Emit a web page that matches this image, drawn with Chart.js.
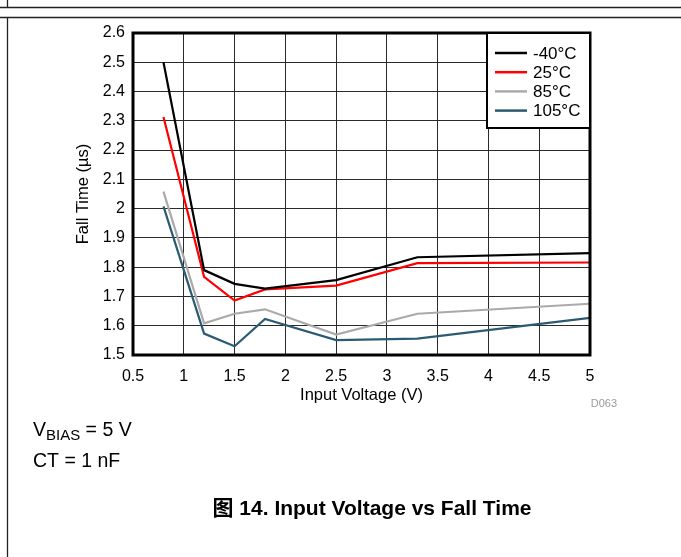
<!DOCTYPE html>
<html>
<head>
<meta charset="utf-8">
<script src="https://cdn.jsdelivr.net/npm/chart.js@4/dist/chart.umd.min.js"></script>
<style>
  html, body { margin: 0; padding: 0; background: #fff; }
  canvas { display: block; }
</style>
</head>
<body>
<canvas id="c" width="681" height="557"></canvas>
<script>
// Fall time (µs) against input voltage (V) at four temperatures
const inputVoltage = [0.8, 1.2, 1.5, 1.8, 2.5, 3.3, 5];
const fallMinus40 = [2.50, 1.79, 1.743, 1.727, 1.756, 1.834, 1.848];
const fall25      = [2.313, 1.767, 1.686, 1.724, 1.737, 1.814, 1.816];
const fall85      = [2.058, 1.608, 1.641, 1.656, 1.570, 1.641, 1.675];
const fall105     = [2.008, 1.573, 1.530, 1.623, 1.551, 1.556, 1.627];
const seriesLabels = ['-40°C', '25°C', '85°C', '105°C'];
const xTicks = [0.5, 1, 1.5, 2, 2.5, 3, 3.5, 4, 4.5, 5];
const yTicks = [1.5, 1.6, 1.7, 1.8, 1.9, 2.0, 2.1, 2.2, 2.3, 2.4, 2.5, 2.6];

const FONT = "'Liberation Sans', Arial, Helvetica, sans-serif";
const COLORS = ['#000000', '#ff0000', '#aaaaaa', '#2b5b72'];

const pairs = ys => inputVoltage.map((x, i) => ({ x, y: ys[i] }));
const seriesValues = [fallMinus40, fall25, fall85, fall105];

const datasets = seriesValues.map((ys, i) => ({
  label: seriesLabels[i],
  data: pairs(ys),
  borderColor: COLORS[i],
  backgroundColor: COLORS[i],
  borderWidth: 2.2,
  pointRadius: 0,
  tension: 0,
  fill: false
}));

// Page rules, plot frame, inset legend and notes
const decor = {
  id: 'decor',
  beforeDraw(chart) {
    const ctx = chart.ctx;
    ctx.save();
    ctx.fillStyle = '#fff';
    ctx.fillRect(0, 0, chart.width, chart.height);
    ctx.strokeStyle = '#222';
    ctx.lineWidth = 1.3;
    ctx.beginPath();
    ctx.moveTo(0, 7.5); ctx.lineTo(chart.width, 7.5);
    ctx.moveTo(0, 17.5); ctx.lineTo(chart.width, 17.5);
    ctx.moveTo(7.5, 0); ctx.lineTo(7.5, 7.5);
    ctx.moveTo(7.5, 17.5); ctx.lineTo(7.5, chart.height);
    ctx.stroke();
    ctx.restore();
  },
  afterDatasetsDraw(chart) {
    const ctx = chart.ctx;
    const a = chart.chartArea;
    ctx.save();
    // plot frame
    ctx.strokeStyle = '#000';
    ctx.lineWidth = 3;
    ctx.strokeRect(a.left, a.top, a.right - a.left, a.bottom - a.top);

    // legend box in the upper right corner
    const bx = 487, by = a.top, bw = a.right - bx, bh = 95;
    ctx.fillStyle = '#fff';
    ctx.fillRect(bx, by, bw, bh);
    ctx.lineWidth = 2;
    ctx.strokeRect(bx, by, bw, bh);
    ctx.font = '17px ' + FONT;
    ctx.textBaseline = 'middle';
    ctx.textAlign = 'left';
    chart.data.datasets.forEach((ds, i) => {
      const y = by + 20 + i * 19.2;
      ctx.strokeStyle = ds.borderColor;
      ctx.lineWidth = 2.5;
      ctx.beginPath();
      ctx.moveTo(495, y); ctx.lineTo(527, y);
      ctx.stroke();
      ctx.fillStyle = '#000';
      ctx.fillText(ds.label, 533, y + 1);
    });

    // figure id
    ctx.fillStyle = '#9a9a9a';
    ctx.font = '11px ' + FONT;
    ctx.textAlign = 'right';
    ctx.textBaseline = 'alphabetic';
    ctx.fillText('D063', 617, 407);

    // test conditions
    ctx.fillStyle = '#000';
    ctx.textAlign = 'left';
    ctx.font = '19.5px ' + FONT;
    ctx.fillText('V', 33, 436);
    let w = ctx.measureText('V').width;
    ctx.font = '15px ' + FONT;
    ctx.fillText('BIAS', 33 + w, 440);
    w += ctx.measureText('BIAS').width;
    ctx.font = '19.5px ' + FONT;
    ctx.fillText(' = 5 V', 33 + w, 436);
    ctx.fillText('CT = 1 nF', 33, 467);

    // caption
    ctx.font = "bold 21px 'Liberation Sans', Arial, 'Noto Sans CJK SC', sans-serif";
    ctx.textAlign = 'center';
    ctx.fillText('图 14. Input Voltage vs Fall Time', 372, 515);
    ctx.restore();
  }
};

new Chart(document.getElementById('c'), {
  type: 'line',
  data: { datasets },
  options: {
    responsive: false,
    animation: false,
    devicePixelRatio: 1,
    layout: { padding: { left: 74, top: 33, right: 91, bottom: 152 } },
    plugins: { legend: { display: false }, tooltip: { enabled: false } },
    scales: {
      x: {
        type: 'linear',
        min: 0.5, max: 5,
        afterFit: s => { s.height = 50; },
        afterBuildTicks: s => { s.ticks = xTicks.map(v => ({ value: v })); },
        ticks: {
          color: '#000',
          font: { family: FONT, size: 16 },
          padding: 12,
          maxRotation: 0,
          callback: v => String(v)
        },
        grid: { color: '#2a2a2a', lineWidth: 1, drawTicks: false },
        border: { display: false },
        title: {
          display: true,
          text: 'Input Voltage (V)',
          color: '#000',
          font: { family: FONT, size: 16.5 },
          padding: 0
        }
      },
      y: {
        type: 'linear',
        min: 1.5, max: 2.6,
        afterFit: s => { s.width = 59; },
        afterBuildTicks: s => { s.ticks = yTicks.map(v => ({ value: v })); },
        ticks: {
          color: '#000',
          font: { family: FONT, size: 16 },
          padding: 8,
          callback: v => String(Math.round(v * 10) / 10)
        },
        grid: { color: '#2a2a2a', lineWidth: 1, drawTicks: false },
        border: { display: false },
        title: {
          display: true,
          text: 'Fall Time (µs)',
          color: '#000',
          font: { family: FONT, size: 16.5 },
          padding: 0
        }
      }
    }
  },
  plugins: [decor]
});
</script>
</body>
</html>
